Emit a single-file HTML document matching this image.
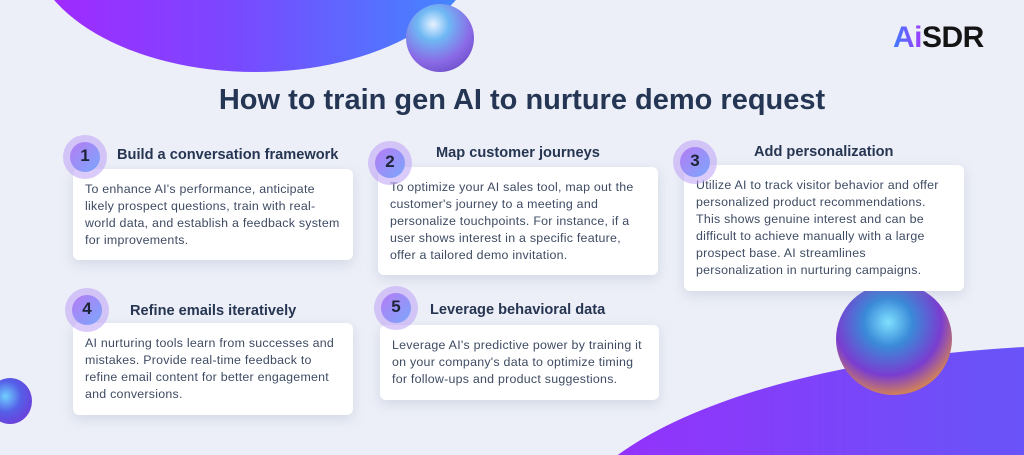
<!DOCTYPE html>
<html style="width:1024px;height:455px;overflow:hidden"><head><meta charset="utf-8"><style>
*{margin:0;padding:0;box-sizing:border-box}
html,body{width:1024px;height:455px;overflow:hidden}
body{background:#eceff7;font-family:"Liberation Sans",sans-serif;position:relative}
.abs{position:absolute}
.card{position:absolute;background:#fff;border-radius:6px;box-shadow:0 4px 12px rgba(120,130,170,.22);padding:7px 12px;font-size:12.4px;line-height:17px;color:#3e4b63;letter-spacing:.25px}
.num{position:absolute;width:44px;height:44px;border-radius:50%;background:rgba(190,160,245,.55);}
.num::after{content:"";position:absolute;left:7px;top:7px;width:30px;height:30px;border-radius:50%;background:linear-gradient(135deg,#b57cf5,#7aa6fb)}
.num span{position:absolute;z-index:2;width:44px;text-align:center;top:11px;font-weight:bold;font-size:17px;color:#1d2438}
.t{position:absolute;font-weight:bold;font-size:14.6px;color:#263552;white-space:nowrap}
.sph{position:absolute;border-radius:50%}
</style></head><body>
<div class="abs" style="left:0;top:0;width:1024px;height:455px;overflow:hidden">
<div class="abs" style="left:30px;top:-190px;width:450px;height:262px;border-radius:50%;background:linear-gradient(90deg,#a526ff,#7a48ff 45%,#3d8cff)"></div>
<div class="abs" style="left:560px;top:345px;width:1080px;height:400px;border-radius:50%;background:linear-gradient(90deg,#9a2dfc,#6a52f8 40%,#5e62f8)"></div>
<div class="sph" style="left:406px;top:4px;width:68px;height:68px;background:radial-gradient(circle at 40% 30%,#e6f2ff 0,#6fb8f4 25%,#8a6ae6 60%,#5a3bb5 100%)"></div>
<div class="sph" style="left:836px;top:283px;width:116px;height:112px;background:radial-gradient(circle at 45% 35%,#7fe0ff 0,#3a8ad8 25%,#7a3dd0 55%,#d0805a 75%,#3a1f7a 100%)"></div>
<div class="sph" style="left:-12px;top:378px;width:44px;height:46px;background:radial-gradient(circle at 40% 40%,#6fd0ff 0,#5560e8 40%,#7a2ad0 100%)"></div>
<div class="abs" style="left:893px;top:21px;font-weight:bold;font-size:30px;letter-spacing:-0.5px;color:#141414"><span style="background:linear-gradient(90deg,#3d7cff,#a03dff);-webkit-background-clip:text;color:transparent">Ai</span>SDR</div>
<div class="abs" style="left:0;width:1044px;top:84px;text-align:center;font-weight:bold;font-size:29px;color:#243654">How to train gen AI to nurture demo request</div>

<div class="card" style="left:73px;top:169px;width:280px;height:91px;padding-top:12px">To enhance AI's performance, anticipate likely prospect questions, train with real-world data, and establish a feedback system for improvements.</div>
<div class="num" style="left:63px;top:135px"><span>1</span></div>
<div class="t" style="left:117px;top:147px">Build a conversation framework</div>

<div class="card" style="left:378px;top:167px;width:280px;height:108px;padding-top:12px">To optimize your AI sales tool, map out the customer's journey to a meeting and personalize touchpoints. For instance, if a user shows interest in a specific feature, offer a tailored demo invitation.</div>
<div class="num" style="left:368px;top:141px"><span>2</span></div>
<div class="t" style="left:436px;top:145px">Map customer journeys</div>

<div class="card" style="left:684px;top:165px;width:280px;height:126px;padding-top:12px">Utilize AI to track visitor behavior and offer personalized product recommendations. This shows genuine interest and can be difficult to achieve manually with a large prospect base. AI streamlines personalization in nurturing campaigns.</div>
<div class="num" style="left:673px;top:140px"><span>3</span></div>
<div class="t" style="left:754px;top:144px">Add personalization</div>

<div class="card" style="left:73px;top:323px;width:280px;height:92px;padding-top:12px">AI nurturing tools learn from successes and mistakes. Provide real-time feedback to refine email content for better engagement and conversions.</div>
<div class="num" style="left:65px;top:288px"><span>4</span></div>
<div class="t" style="left:130px;top:303px">Refine emails iteratively</div>

<div class="card" style="left:380px;top:325px;width:279px;height:75px;padding-top:12px">Leverage AI's predictive power by training it on your company's data to optimize timing for follow-ups and product suggestions.</div>
<div class="num" style="left:374px;top:286px"><span>5</span></div>
<div class="t" style="left:430px;top:302px">Leverage behavioral data</div>
</div>
</body></html>
